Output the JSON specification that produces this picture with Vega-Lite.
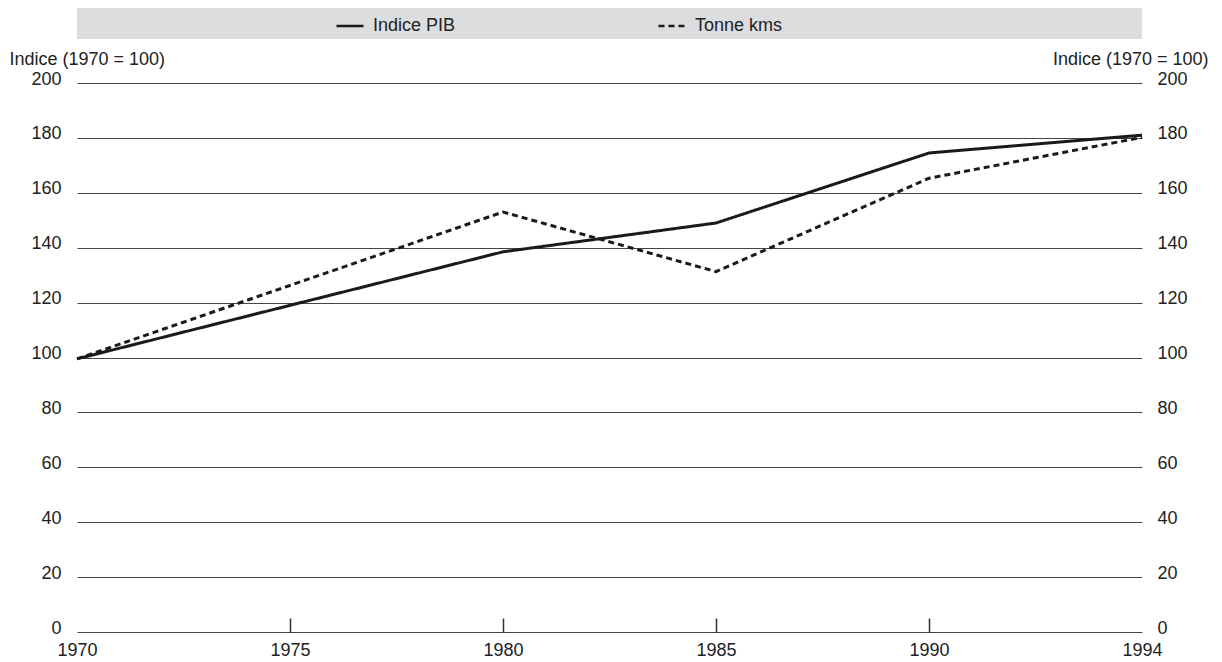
{
  "$schema": "https://vega.github.io/schema/vega-lite/v6.json",
  "width": 1065,
  "height": 549,
  "autosize": {"type": "none"},
  "padding": {"left": 77, "top": 83, "right": 80, "bottom": 30},
  "config": {
    "view": {"stroke": null},
    "font": "Liberation Sans",
    "axis": {"labelFont": "Liberation Sans", "titleFont": "Liberation Sans", "labelColor": "#222", "titleColor": "#222", "labelFontSize": 18, "titleFontSize": 18, "titleFontWeight": "normal"},
    "legend": {"labelFont": "Liberation Sans", "labelColor": "#222", "labelFontSize": 18}
  },
  "data": {"values": [
    {"year": 1970, "series": "Indice PIB", "value": 99.5},
    {"year": 1980, "series": "Indice PIB", "value": 138.5},
    {"year": 1985, "series": "Indice PIB", "value": 149},
    {"year": 1990, "series": "Indice PIB", "value": 174.5},
    {"year": 1994, "series": "Indice PIB", "value": 181},
    {"year": 1970, "series": "Tonne kms", "value": 99.5},
    {"year": 1980, "series": "Tonne kms", "value": 153},
    {"year": 1985, "series": "Tonne kms", "value": 131.3},
    {"year": 1990, "series": "Tonne kms", "value": 165.3},
    {"year": 1994, "series": "Tonne kms", "value": 180.2}
  ]},
  "resolve": {"axis": {"x": "independent", "y": "independent"}},
  "layer": [
    {
      "data": {"values": [{}]},
      "mark": {"type": "rect", "color": "#dcdddf"},
      "encoding": {
        "y": {"datum": 227.3, "type": "quantitative", "scale": {"domain": [0, 200]}, "axis": null},
        "y2": {"datum": 216}
      }
    },
    {
      "mark": {"type": "line", "strokeWidth": 3, "color": "#1a1a1a"},
      "encoding": {
        "x": {"field": "year", "type": "ordinal", "scale": {"type": "point", "domain": [1970, 1975, 1980, 1985, 1990, 1994], "padding": 0},
          "axis": {"orient": "bottom", "labelAngle": 0, "ticks": false, "domain": false, "grid": false, "labelPadding": 9, "title": null}},
        "y": {"field": "value", "type": "quantitative", "scale": {"domain": [0, 200], "nice": false},
          "axis": {"orient": "left", "values": [0, 20, 40, 60, 80, 100, 120, 140, 160, 180, 200], "grid": true, "gridColor": "#444", "gridWidth": 1, "gridOpacity": 1, "domain": false, "ticks": false, "labelPadding": 16, "labelBaseline": "alphabetic", "labelOffset": 1,
            "title": "Indice (1970 = 100)", "titleAngle": 0, "titleAlign": "left", "titleBaseline": "middle", "titleX": -68, "titleY": -24}},
        "strokeDash": {"field": "series", "type": "nominal", "scale": {"domain": ["Indice PIB", "Tonne kms"], "range": [[1, 0], [6, 4]]},
          "legend": {"orient": "none", "legendX": 258, "legendY": -72, "direction": "horizontal", "title": null, "padding": 0, "symbolType": "stroke", "symbolSize": 729, "symbolStrokeWidth": 2.5, "symbolStrokeColor": "#1a1a1a", "labelOffset": 8, "columnPadding": 197}}
      }
    },
    {
      "mark": {"type": "line", "strokeOpacity": 0},
      "encoding": {
        "x": {"field": "year", "type": "ordinal", "scale": {"type": "point", "domain": [1970, 1975, 1980, 1985, 1990, 1994], "padding": 0},
          "axis": {"orient": "bottom", "values": [1975, 1980, 1985, 1990], "labels": false, "ticks": true, "tickSize": -14, "tickColor": "#333", "tickWidth": 1.5, "domain": false, "grid": false, "title": null}},
        "y": {"field": "value", "type": "quantitative", "scale": {"domain": [0, 200], "nice": false},
          "axis": {"orient": "right", "values": [0, 20, 40, 60, 80, 100, 120, 140, 160, 180, 200], "grid": false, "domain": false, "ticks": false, "labelPadding": 15, "labelBaseline": "alphabetic", "labelOffset": 1,
            "title": "Indice (1970 = 100)", "titleAngle": 0, "titleAlign": "right", "titleBaseline": "middle", "titleX": 66, "titleY": -24}},
        "detail": {"field": "series", "type": "nominal"}
      }
    }
  ]
}
